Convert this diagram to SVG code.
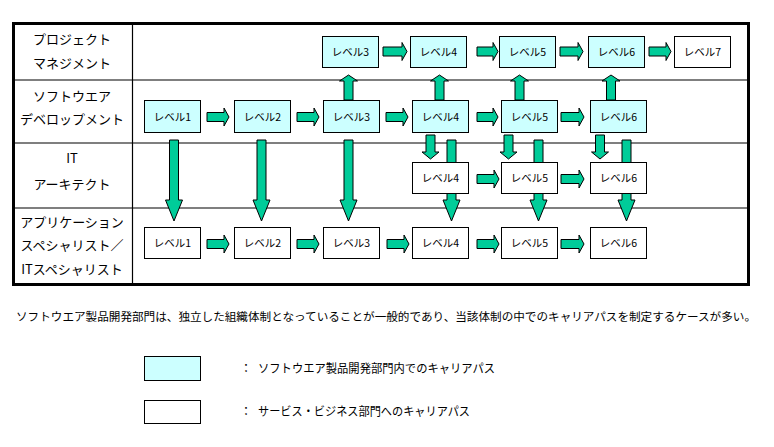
<svg xmlns="http://www.w3.org/2000/svg" width="774" height="447" viewBox="0 0 774 447">
<style>
  text { font-family: "Noto Sans CJK JP", "Noto Sans", sans-serif; fill: #000; }
  .lbl { font-size: 13px; text-anchor: middle; }
  .lv { font-size: 10.5px; text-anchor: middle; }
  .note { font-size: 12px; }
  .sent { font-size: 11.5px; }
  .grid { stroke: #000; stroke-width: 1.2; fill: none; }
  .sw { fill: #CCFFFF; stroke: #000; stroke-width: 1; }
  .svc { fill: #FFFFFF; stroke: #000; stroke-width: 1; }
  .arr { fill: #00CC99; stroke: #000; stroke-width: 1; stroke-linejoin: miter; }
</style>
<rect x="0" y="0" width="774" height="447" fill="#FFFFFF"/>
<g id="table">
  <line class="grid" x1="132.5" y1="23" x2="132.5" y2="285"/>
  <line class="grid" x1="13" y1="80" x2="748" y2="80"/>
  <line class="grid" x1="13" y1="143" x2="748" y2="143"/>
  <line class="grid" x1="13" y1="208" x2="748" y2="208"/>
  <text class="lbl" x="72" y="44">プロジェクト</text>
  <text class="lbl" x="72" y="68">マネジメント</text>
  <text class="lbl" x="72" y="101">ソフトウエア</text>
  <text class="lbl" x="72" y="124">デベロップメント</text>
  <text class="lbl" x="72" y="163">IT</text>
  <text class="lbl" x="72" y="189">アーキテクト</text>
  <text class="lbl" x="72" y="227">アプリケーション</text>
  <text class="lbl" x="72" y="250">スペシャリスト／</text>
  <text class="lbl" x="72" y="274">ITスペシャリスト</text>
</g>
<g id="connectors">
  <!-- PM row -->
  <polygon class="arr" points="383,47 402,47 402,42.5 407,51.5 402,60.5 402,56 383,56"/>
  <polygon class="arr" points="477,47 493,47 493,42.5 498,51.5 493,60.5 493,56 477,56"/>
  <polygon class="arr" points="560,47 578,47 578,42.5 583,51.5 578,60.5 578,56 560,56"/>
  <polygon class="arr" points="649,47 666,47 666,42.5 671,51.5 666,60.5 666,56 649,56"/>
  <!-- SD row -->
  <polygon class="arr" points="207,112.5 224,112.5 224,108 229,117 224,126 224,121.5 207,121.5"/>
  <polygon class="arr" points="297,112.5 314,112.5 314,108 319,117 314,126 314,121.5 297,121.5"/>
  <polygon class="arr" points="386,112.5 403,112.5 403,108 408,117 403,126 403,121.5 386,121.5"/>
  <polygon class="arr" points="477,112.5 493,112.5 493,108 498,117 493,126 493,121.5 477,121.5"/>
  <polygon class="arr" points="561,112.5 579,112.5 579,108 584,117 579,126 579,121.5 561,121.5"/>
  <!-- IT row -->
  <polygon class="arr" points="477,174.5 494,174.5 494,170 499,179 494,188 494,183.5 477,183.5"/>
  <polygon class="arr" points="561,174.5 579,174.5 579,170 584,179 579,188 579,183.5 561,183.5"/>
  <!-- App row -->
  <polygon class="arr" points="207,239.5 224,239.5 224,235 229,244 224,253 224,248.5 207,248.5"/>
  <polygon class="arr" points="297,239.5 314,239.5 314,235 319,244 314,253 314,248.5 297,248.5"/>
  <polygon class="arr" points="387,239.5 404,239.5 404,235 409,244 404,253 404,248.5 387,248.5"/>
  <polygon class="arr" points="477,239.5 494,239.5 494,235 499,244 494,253 494,248.5 477,248.5"/>
  <polygon class="arr" points="561,239.5 579,239.5 579,235 584,244 579,253 579,248.5 561,248.5"/>
  <!-- Up arrows SD -> PM -->
  <polygon class="arr" points="344,100 344,81 339.5,81 348.5,75 357.5,81 353,81 353,100"/>
  <polygon class="arr" points="435,100 435,81 430.5,81 439.5,75 448.5,81 444,81 444,100"/>
  <polygon class="arr" points="515,100 515,81 510.5,81 519.5,75 528.5,81 524,81 524,100"/>
  <polygon class="arr" points="606.5,100 606.5,81 602,81 611,75 620,81 615.5,81 615.5,100"/>
  <!-- Long down arrows SD -> App -->
  <polygon class="arr" points="169.5,140 178.5,140 178.5,200 182.5,200 174,221 165.5,200 169.5,200"/>
  <polygon class="arr" points="257,140 266,140 266,200 270,200 261.5,221 253,200 257,200"/>
  <polygon class="arr" points="344,140 353,140 353,200 357,200 348.5,221 340,200 344,200"/>
  <polygon class="arr" points="447,140 456,140 456,200 460,200 451.5,221 443,200 447,200"/>
  <polygon class="arr" points="534,140 543,140 543,200 547,200 538.5,221 530,200 534,200"/>
  <polygon class="arr" points="622,140 631,140 631,200 635,200 626.5,221 618,200 622,200"/>
  <!-- Short down arrows SD -> IT -->
  <polygon class="arr" points="426,135 435,135 435,152 439,152 430.5,159 422,152 426,152"/>
  <polygon class="arr" points="504,135 513,135 513,152 517,152 508.5,159 500,152 504,152"/>
  <polygon class="arr" points="595.5,135 604.5,135 604.5,152 608.5,152 600,159 591.5,152 595.5,152"/>
</g>
<g id="pm3"><rect class="sw" x="322.5" y="36.5" width="56" height="31"/><text class="lv" x="350.5" y="56">レベル3</text></g>
<g id="pm4"><rect class="sw" x="410.5" y="36.5" width="56" height="31"/><text class="lv" x="438.5" y="56">レベル4</text></g>
<g id="pm5"><rect class="sw" x="499.5" y="36.5" width="56" height="31"/><text class="lv" x="527.5" y="56">レベル5</text></g>
<g id="pm6"><rect class="sw" x="588.5" y="36.5" width="56" height="31"/><text class="lv" x="616.5" y="56">レベル6</text></g>
<g id="pm7"><rect class="svc" x="674.5" y="36.5" width="56" height="31"/><text class="lv" x="702.5" y="56">レベル7</text></g>
<g id="sd1"><rect class="sw" x="144.5" y="100.5" width="56" height="32"/><text class="lv" x="172.5" y="120.5">レベル1</text></g>
<g id="sd2"><rect class="sw" x="234.5" y="100.5" width="56" height="32"/><text class="lv" x="262.5" y="120.5">レベル2</text></g>
<g id="sd3"><rect class="sw" x="323.5" y="100.5" width="56" height="32"/><text class="lv" x="351.5" y="120.5">レベル3</text></g>
<g id="sd4"><rect class="sw" x="412.5" y="100.5" width="56" height="32"/><text class="lv" x="440.5" y="120.5">レベル4</text></g>
<g id="sd5"><rect class="sw" x="501.5" y="100.5" width="56" height="32"/><text class="lv" x="529.5" y="120.5">レベル5</text></g>
<g id="sd6"><rect class="sw" x="590.5" y="100.5" width="56" height="32"/><text class="lv" x="618.5" y="120.5">レベル6</text></g>
<g id="it4"><rect class="svc" x="412.5" y="162.5" width="56" height="31"/><text class="lv" x="440.5" y="182">レベル4</text></g>
<g id="it5"><rect class="svc" x="501.5" y="162.5" width="56" height="31"/><text class="lv" x="529.5" y="182">レベル5</text></g>
<g id="it6"><rect class="svc" x="590.5" y="162.5" width="56" height="31"/><text class="lv" x="618.5" y="182">レベル6</text></g>
<g id="app1"><rect class="svc" x="144.5" y="227.5" width="56" height="31"/><text class="lv" x="172.5" y="247">レベル1</text></g>
<g id="app2"><rect class="svc" x="234.5" y="227.5" width="56" height="31"/><text class="lv" x="262.5" y="247">レベル2</text></g>
<g id="app3"><rect class="svc" x="323.5" y="227.5" width="56" height="31"/><text class="lv" x="351.5" y="247">レベル3</text></g>
<g id="app4"><rect class="svc" x="412.5" y="227.5" width="56" height="31"/><text class="lv" x="440.5" y="247">レベル4</text></g>
<g id="app5"><rect class="svc" x="501.5" y="227.5" width="56" height="31"/><text class="lv" x="529.5" y="247">レベル5</text></g>
<g id="app6"><rect class="svc" x="590.5" y="227.5" width="56" height="31"/><text class="lv" x="618.5" y="247">レベル6</text></g>
<rect id="frame" x="13.5" y="23.5" width="735" height="261" fill="none" stroke="#000" stroke-width="3"/>
<g id="note">
  <text class="sent" x="16" y="321" textLength="740" lengthAdjust="spacingAndGlyphs">ソフトウエア製品開発部門は、独立した組織体制となっていることが一般的であり、当該体制の中でのキャリアパスを制定するケースが多い。</text>
</g>
<g id="legend">
  <rect class="sw" x="144.5" y="356.5" width="56" height="24"/>
  <text class="note" x="240" y="373">：</text>
  <text class="note" x="258" y="373" textLength="237" lengthAdjust="spacingAndGlyphs">ソフトウエア製品開発部門内でのキャリアパス</text>
  <rect class="svc" x="144.5" y="400.5" width="56" height="23"/>
  <text class="note" x="240" y="416">：</text>
  <text class="note" x="258" y="416" textLength="212" lengthAdjust="spacingAndGlyphs">サービス・ビジネス部門へのキャリアパス</text>
</g>
</svg>
